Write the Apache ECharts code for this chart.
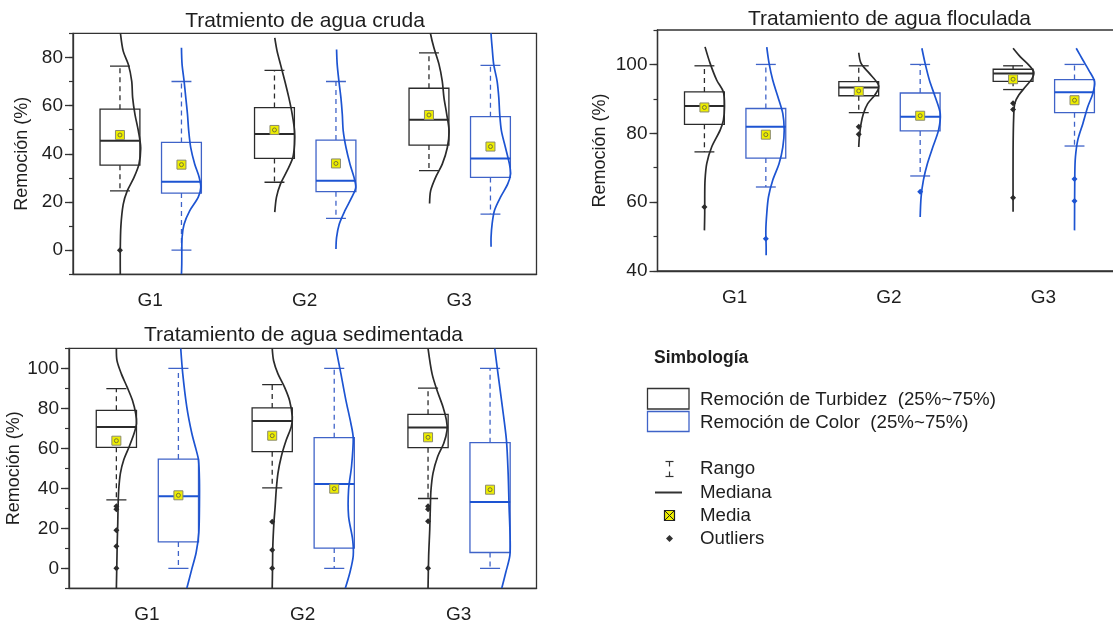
<!DOCTYPE html>
<html><head><meta charset="utf-8">
<script src="https://cdn.jsdelivr.net/npm/echarts@6/dist/echarts.min.js"></script>
<style>html,body{margin:0;padding:0;background:#fff}#c{width:1113px;height:621px}</style>
</head><body><div id="c"></div>
<script>
// ---------- text ----------
const categories = ['G1', 'G2', 'G3'];
const panelTitles = ['Tratmiento de agua cruda', 'Tratamiento de agua floculada', 'Tratamiento de agua sedimentada'];
const yName = 'Remoción (%)';
const legendTitle = 'Simbología';
const legendBoxLabels = ['Remoción de Turbidez  (25%~75%)', 'Remoción de Color  (25%~75%)'];
const legendSymLabels = ['Rango', 'Mediana', 'Media', 'Outliers'];

// ---------- axis ticks ----------
const crudaTicks = [0, 20, 40, 60, 80];
const flocTicks = [40, 60, 80, 100];
const sedTicks = [0, 20, 40, 60, 80, 100];

// ---------- box stats: [min, Q1, median, Q3, max] ----------
const crudaTurbBox = [[24.6, 35.3, 45.4, 58.5, 76.4], [28.2, 38.1, 48.2, 59.2, 74.6], [33, 43.6, 54.1, 67.2, 81.9]];
const crudaTurbMean = [47.8, 49.9, 56.1];
const crudaTurbOut = [[0, 0]];
const crudaColorBox = [[0, 23.7, 28.4, 44.7, 70], [13.2, 24.3, 28.8, 45.7, 70], [15, 30.2, 38.1, 55.4, 76.7]];
const crudaColorMean = [35.5, 36, 43];
const crudaColorOut = [];

const flocTurbBox = [[74.6, 82.6, 87.9, 92, 99.6], [86, 90.9, 93.3, 95, 99.6], [92.7, 95.1, 97.4, 98.6, 99.6]];
const flocTurbMean = [87.5, 92.3, 95.7];
const flocTurbOut = [[0, 58.6], [1, 81.9], [1, 79.7], [2, 88.7], [2, 86.9], [2, 61.3]];
const flocColorBox = [[64.4, 72.8, 81.9, 87.2, 100], [67.6, 80.7, 84.8, 91.7, 100], [76.3, 86, 91.9, 95.6, 100]];
const flocColorMean = [79.6, 85.1, 89.6];
const flocColorOut = [[0, 49.4], [1, 63], [2, 66.7], [2, 60.3]];

const sedTurbBox = [[34.2, 60.5, 70.7, 79, 89.8], [40.2, 58.3, 73.6, 80.2, 91.8], [34.9, 60.3, 70.4, 77, 90.1]];
const sedTurbMean = [63.8, 66.3, 65.5];
const sedTurbOut = [[0, 31], [0, 29.5], [0, 19], [0, 11], [0, 0], [1, 23.3], [1, 9.2], [1, 0], [2, 31], [2, 29.5], [2, 23.5], [2, 0]];
const sedColorBox = [[0, 13.2, 36, 54.6, 100], [0, 10.1, 42.1, 65.3, 100], [0, 7.9, 33.2, 62.8, 100]];
const sedColorMean = [36.5, 39.8, 39.3];
const sedColorOut = [];

// ---------- distribution curves: [value, density as % of category width] ----------
const crudaTurbCurve = [
  [[-10,0.2],[0,0.2],[10,0.6],[19,2.1],[24.6,4.7],[30.2,9.1],[35.7,12.3],[42.6,13.4],[49.5,11.9],[56.4,9.7],[63.3,8.2],[70.2,7.6],[77.1,5.4],[82.6,2.1],[89.5,0.4],[92,0.3]],
  [[15.8,0.2],[22,1.3],[27.5,3.9],[33,8.2],[38.5,11.9],[44,13],[49.5,13],[56.4,11.5],[63.3,9.3],[70.2,6.7],[77.1,3.9],[82.6,1.7],[88.1,0.2]],
  [[19.4,0.4],[24.7,1.1],[30.2,4.3],[35.7,8.6],[42.6,11.9],[49.5,13],[56.4,11.5],[63.3,9.7],[70.2,8.6],[77.1,6.5],[84,3.2],[89.5,1.1],[93,0.4]]
];
const crudaColorCurve = [
  [[-10,0],[-5.7,0.2],[5.3,0.4],[10.8,1.7],[16.4,5.4],[21.9,10.8],[26,12.5],[30.2,11.5],[35.7,8.6],[42.6,6],[49.5,4.7],[56.4,3.9],[63.3,2.8],[70.2,1.7],[77.1,0.4],[84,0]],
  [[0.5,0],[5.3,0.4],[10.8,2.1],[16.4,5.8],[21.9,10.2],[26,12.8],[30.2,11.7],[35.7,9.1],[42.6,6.5],[49.5,4.7],[56.4,4.1],[63.3,3.2],[70.2,1.9],[77.1,0.8],[83.3,0.4]],
  [[1.4,0.4],[5.5,0.4],[11,1.1],[16.5,2.6],[22,6.5],[27.5,11.2],[31.6,13],[35.7,12.3],[42.6,9.7],[49.5,7.1],[56.4,6],[63.3,5.4],[70.2,4.3],[77.1,2.1],[84,1.1],[89.5,0.4],[93,0.2]]
];
const flocTurbCurve = [
  [[51.8,0],[56.7,0.2],[61.5,0.2],[66.4,0.4],[71.2,1.5],[76,4.7],[80.9,10.2],[83.8,12.3],[87.7,13],[92,12.3],[95.4,8],[100.3,3.7],[105.1,0.4]],
  [[76,0],[78.9,0.4],[82.8,1.5],[85.7,3],[88.6,5.8],[91,10.2],[93,12.8],[94.5,12.3],[97.4,6.9],[100.3,1.5],[103.4,0]],
  [[57.2,0],[75,0],[84.9,0.4],[88.7,1.1],[91.1,3.7],[93.5,8],[95.9,12.3],[97.8,13.4],[99.8,10.2],[102.2,4.7],[104.7,0]]
];
const flocColorCurve = [
  [[44.6,0.2],[47,0.2],[51.8,0],[56.7,0.6],[61.5,1.7],[66.4,4.5],[71.2,8.6],[76,11],[80.9,11.9],[85.7,11],[90.6,7.8],[95.4,4.5],[100.3,2.1],[105,0.6]],
  [[55.7,0],[61.5,0.6],[66.4,2.1],[71.2,4.7],[76,8.2],[80.9,11.9],[85.7,13],[90.6,9.7],[95.4,6],[100.3,3.2],[104.7,1.1]],
  [[51.8,0],[68.3,0.2],[73.1,0.6],[78,2.1],[82.8,5.4],[87.7,8.6],[91.6,11.9],[95,13],[98.3,9.3],[101.3,5.4],[104.7,1.1]]
];
const sedTurbCurve = [
  [[-10,0],[6.3,0.4],[14.5,0.6],[22.8,0.9],[31,1.1],[39.3,1.5],[47.6,2.6],[54.2,4.7],[60.8,8.2],[67.5,11.4],[72.4,12.9],[77.4,12.4],[84,10.3],[90.6,6.9],[97.2,3.2],[103.8,0.4],[110,0]],
  [[-10,0],[-0.4,0.2],[11.2,0.4],[22.8,1.1],[31,1.9],[39.3,2.6],[47.6,3.7],[55.8,5.8],[64.1,9],[70.7,12.2],[75.7,12.9],[84,11.1],[90.6,7.9],[97.2,3.7],[103.8,0.9],[110,0]],
  [[-10,0],[6.3,0.4],[19.5,1.1],[31.1,1.5],[39.3,1.9],[47.6,3.2],[55.9,6.2],[62.5,10.1],[69.1,12.2],[74.1,11.8],[80.7,9.6],[88.9,5.8],[97.2,2.6],[110,0]]
];
const sedColorCurve = [
  [[-10,5.4],[-0.4,8.6],[7.9,11.4],[17.8,13.1],[31,13.5],[44.3,13.5],[54.2,12.9],[59.2,11.4],[67.5,8.6],[80.6,5.4],[97.2,2.8],[110,1.5]],
  [[-10,7.1],[-2,10.1],[6.3,12.2],[14.5,11.8],[26.1,9.2],[39.3,9.2],[50.9,11.1],[65,12.2],[72.4,10.7],[84,7.5],[97.2,4.3],[110,1.1]],
  [[-10,7.5],[-2,10.1],[6.3,12.7],[14.5,12.9],[31.1,12.2],[47.6,11.6],[64.1,10.5],[80.7,7.9],[97.2,5.1],[110,3]]
];

// ---------- styling ----------
const FONT = '"Liberation Sans", Arial, sans-serif';
const TXT = '#1e1e1e';
const AX = '#333333';
const BLACK = '#2b2b2b';
const BOX_BLUE = '#3f63c8';
const LINE_BLUE = '#1d54d2';
const OFF_TURB = -0.196, OFF_COLOR = 0.202, BOX_W = 0.258;

function boxRender(offset, boxColor, medColor) {
  return function (params, api) {
    const cat = api.value(0);
    const band = api.size([1, 0])[0];
    const cx = api.coord([cat, 0])[0] + offset * band;
    const hw = BOX_W * band / 2, cap = hw * 0.5;
    const y = k => api.coord([cat, api.value(k)])[1];
    const yMin = y(1), yQ1 = y(2), yMed = y(3), yQ3 = y(4), yMax = y(5);
    const ls = { stroke: boxColor, lineWidth: 1.3 };
    const dash = { stroke: boxColor, lineWidth: 1.3, lineDash: [5, 4] };
    return { type: 'group', children: [
      { type: 'line', shape: { x1: cx, y1: yQ3, x2: cx, y2: yMax }, style: dash },
      { type: 'line', shape: { x1: cx, y1: yQ1, x2: cx, y2: yMin }, style: dash },
      { type: 'line', shape: { x1: cx - cap, y1: yMax, x2: cx + cap, y2: yMax }, style: ls },
      { type: 'line', shape: { x1: cx - cap, y1: yMin, x2: cx + cap, y2: yMin }, style: ls },
      { type: 'rect', shape: { x: cx - hw, y: yQ3, width: 2 * hw, height: yQ1 - yQ3 }, style: { fill: 'none', stroke: boxColor, lineWidth: 1.3 } },
      { type: 'line', shape: { x1: cx - hw, y1: yMed, x2: cx + hw, y2: yMed }, style: { stroke: medColor, lineWidth: 2 } }
    ] };
  };
}
function curveRender(curves, offset, color) {
  return function (params, api) {
    const cat = api.value(0);
    const band = api.size([1, 0])[0];
    const base = api.coord([cat, 0])[0] + offset * band;
    const pts = curves[cat].map(p => [base + p[1] / 100 * band, api.coord([cat, p[0]])[1]]);
    return { type: 'polyline', shape: { points: pts, smooth: 0.3 }, style: { stroke: color, lineWidth: 1.7, fill: null } };
  };
}
function meanRender(offset) {
  return function (params, api) {
    const cat = api.value(0);
    const band = api.size([1, 0])[0];
    const p = api.coord([cat, api.value(1)]);
    const cx = p[0] + offset * band, cy = p[1], s = 4.5;
    return { type: 'group', children: [
      { type: 'rect', shape: { x: cx - s, y: cy - s, width: 2 * s, height: 2 * s }, style: { fill: '#eeee00', stroke: '#8a8a70', lineWidth: 1 } },
      { type: 'circle', shape: { cx: cx, cy: cy, r: 2 }, style: { fill: 'none', stroke: '#6a6a3a', lineWidth: 0.9 } }
    ] };
  };
}
function outRender(offset, color) {
  return function (params, api) {
    const cat = api.value(0);
    const band = api.size([1, 0])[0];
    const p = api.coord([cat, api.value(1)]);
    const cx = p[0] + offset * band, cy = p[1], s = 3;
    return { type: 'polygon', shape: { points: [[cx, cy - s], [cx + s, cy], [cx, cy + s], [cx - s, cy]] }, style: { fill: color } };
  };
}

const panels = [
  { grid: { left: 73, top: 33.3, width: 463.5, height: 241 }, min: -10, max: 90, ticks: crudaTicks, nameGap: 42,
    title: panelTitles[0], tx: 305, ty: 21.5,
    tb: crudaTurbBox, tm: crudaTurbMean, to: crudaTurbOut, tc: crudaTurbCurve,
    cb: crudaColorBox, cm: crudaColorMean, co: crudaColorOut, cc: crudaColorCurve },
  { grid: { left: 657.5, top: 30, width: 463, height: 241 }, min: 40, max: 110, ticks: flocTicks, nameGap: 48,
    title: panelTitles[1], tx: 889.5, ty: 19.5,
    tb: flocTurbBox, tm: flocTurbMean, to: flocTurbOut, tc: flocTurbCurve,
    cb: flocColorBox, cm: flocColorMean, co: flocColorOut, cc: flocColorCurve },
  { grid: { left: 69, top: 348.3, width: 467.5, height: 240 }, min: -10, max: 110, ticks: sedTicks, nameGap: 38,
    title: panelTitles[2], tx: 303.5, ty: 335.5,
    tb: sedTurbBox, tm: sedTurbMean, to: sedTurbOut, tc: sedTurbCurve,
    cb: sedColorBox, cm: sedColorMean, co: sedColorOut, cc: sedColorCurve }
];

const grids = [], xAxes = [], yAxes = [], series = [], graphics = [];
panels.forEach((P, gi) => {
  grids.push(Object.assign({ show: true, borderColor: AX, borderWidth: 1.3, backgroundColor: 'transparent', outerBoundsMode: 'none', containLabel: false }, P.grid));
  xAxes.push({ type: 'category', gridIndex: gi, data: categories, boundaryGap: true,
    axisLine: { onZero: false, lineStyle: { color: AX, width: 1.3 } },
    axisTick: { alignWithLabel: true, length: 8, lineStyle: { color: AX, width: 1.3 } },
    axisLabel: { fontSize: 19, color: TXT, margin: 17, fontFamily: FONT },
    splitLine: { show: false } });
  // minor ticks axis (data axis)
  yAxes.push({ type: 'value', gridIndex: gi, position: 'left', min: P.min, max: P.max, interval: 10,
    axisLine: { show: true, onZero: false, lineStyle: { color: AX, width: 1.3 } },
    axisTick: { show: true, length: 4, lineStyle: { color: AX, width: 1.2 } },
    axisLabel: { show: false }, splitLine: { show: false } });
  // major ticks + labels
  yAxes.push({ type: 'value', gridIndex: gi, position: 'left', offset: 0, min: P.min, max: P.max,
    axisLine: { show: false, onZero: false },
    axisTick: { show: true, length: 8, customValues: P.ticks, lineStyle: { color: AX, width: 1.3 } },
    axisLabel: { customValues: P.ticks, fontSize: 19, color: TXT, margin: 10, fontFamily: FONT },
    splitLine: { show: false },
    name: yName, nameLocation: 'middle', nameGap: P.nameGap,
    nameTextStyle: { fontSize: 18, color: TXT, fontFamily: FONT } });
  const yi = gi * 2;
  const mk = (data, render, enc) => ({ type: 'custom', xAxisIndex: gi, yAxisIndex: yi, clip: true, data: data, renderItem: render, encode: enc, silent: true, animation: false });
  series.push(mk(P.tb.map((b, i) => [i].concat(b)), boxRender(OFF_TURB, BLACK, BLACK), { x: 0, y: [1, 2, 3, 4, 5] }));
  series.push(mk(P.cb.map((b, i) => [i].concat(b)), boxRender(OFF_COLOR, BOX_BLUE, LINE_BLUE), { x: 0, y: [1, 2, 3, 4, 5] }));
  series.push(mk(categories.map((c, i) => [i, P.min]), curveRender(P.tc, OFF_TURB, BLACK), { x: 0, y: 1 }));
  series.push(mk(categories.map((c, i) => [i, P.min]), curveRender(P.cc, OFF_COLOR, LINE_BLUE), { x: 0, y: 1 }));
  series.push(mk(P.tm.map((m, i) => [i, m]), meanRender(OFF_TURB), { x: 0, y: 1 }));
  series.push(mk(P.cm.map((m, i) => [i, m]), meanRender(OFF_COLOR), { x: 0, y: 1 }));
  series.push(mk(P.to, outRender(OFF_TURB, BLACK), { x: 0, y: 1 }));
  series.push(mk(P.co, outRender(OFF_COLOR, LINE_BLUE), { x: 0, y: 1 }));
  graphics.push({ type: 'text', x: P.tx, y: P.ty, style: { text: P.title, font: '21px ' + FONT, fill: TXT, align: 'center', verticalAlign: 'middle', textAlign: 'center', textVerticalAlign: 'middle' } });
});

// ---------- legend (Simbología) ----------
const lt = (txt, x, y, font) => ({ type: 'text', x: x, y: y, style: { text: txt, font: font, fill: TXT, align: 'left', verticalAlign: 'middle', textAlign: 'left', textVerticalAlign: 'middle' } });
graphics.push(lt(legendTitle, 654, 358, 'bold 17.5px ' + FONT));
graphics.push({ type: 'rect', shape: { x: 647.5, y: 388.5, width: 41.5, height: 20.5 }, style: { fill: 'none', stroke: AX, lineWidth: 1.3 } });
graphics.push({ type: 'rect', shape: { x: 647.5, y: 411.5, width: 41.5, height: 20 }, style: { fill: 'none', stroke: BOX_BLUE, lineWidth: 1.3 } });
graphics.push(lt(legendBoxLabels[0], 700, 400, '18.7px ' + FONT));
graphics.push(lt(legendBoxLabels[1], 700, 422.5, '18.7px ' + FONT));
const sx = 669.5;
[[sx - 4, 461.5, sx + 4, 461.5], [sx, 461.5, sx, 466.5], [sx, 471.5, sx, 476.5], [sx - 4, 476.5, sx + 4, 476.5]].forEach(l =>
  graphics.push({ type: 'line', shape: { x1: l[0], y1: l[1], x2: l[2], y2: l[3] }, style: { stroke: AX, lineWidth: 1.2 } }));
graphics.push({ type: 'line', shape: { x1: 655, y1: 492.5, x2: 682, y2: 492.5 }, style: { stroke: AX, lineWidth: 2 } });
graphics.push({ type: 'rect', shape: { x: sx - 5, y: 510.5, width: 10, height: 10 }, style: { fill: '#f0f000', stroke: '#222', lineWidth: 1.2 } });
graphics.push({ type: 'line', shape: { x1: sx - 5, y1: 510.5, x2: sx + 5, y2: 520.5 }, style: { stroke: '#222', lineWidth: 1 } });
graphics.push({ type: 'line', shape: { x1: sx + 5, y1: 510.5, x2: sx - 5, y2: 520.5 }, style: { stroke: '#222', lineWidth: 1 } });
graphics.push({ type: 'polygon', shape: { points: [[sx, 535], [sx + 3.5, 538.5], [sx, 542], [sx - 3.5, 538.5]] }, style: { fill: AX } });
graphics.push(lt(legendSymLabels[0], 700, 469, '18.7px ' + FONT));
graphics.push(lt(legendSymLabels[1], 700, 492.5, '18.7px ' + FONT));
graphics.push(lt(legendSymLabels[2], 700, 515.5, '18.7px ' + FONT));
graphics.push(lt(legendSymLabels[3], 700, 538.5, '18.7px ' + FONT));

const chart = echarts.init(document.getElementById('c'), null, { renderer: 'canvas' });
chart.setOption({
  animation: false,
  backgroundColor: '#ffffff',
  textStyle: { fontFamily: FONT },
  grid: grids, xAxis: xAxes, yAxis: yAxes, series: series, graphic: graphics
});
</script></body></html>
